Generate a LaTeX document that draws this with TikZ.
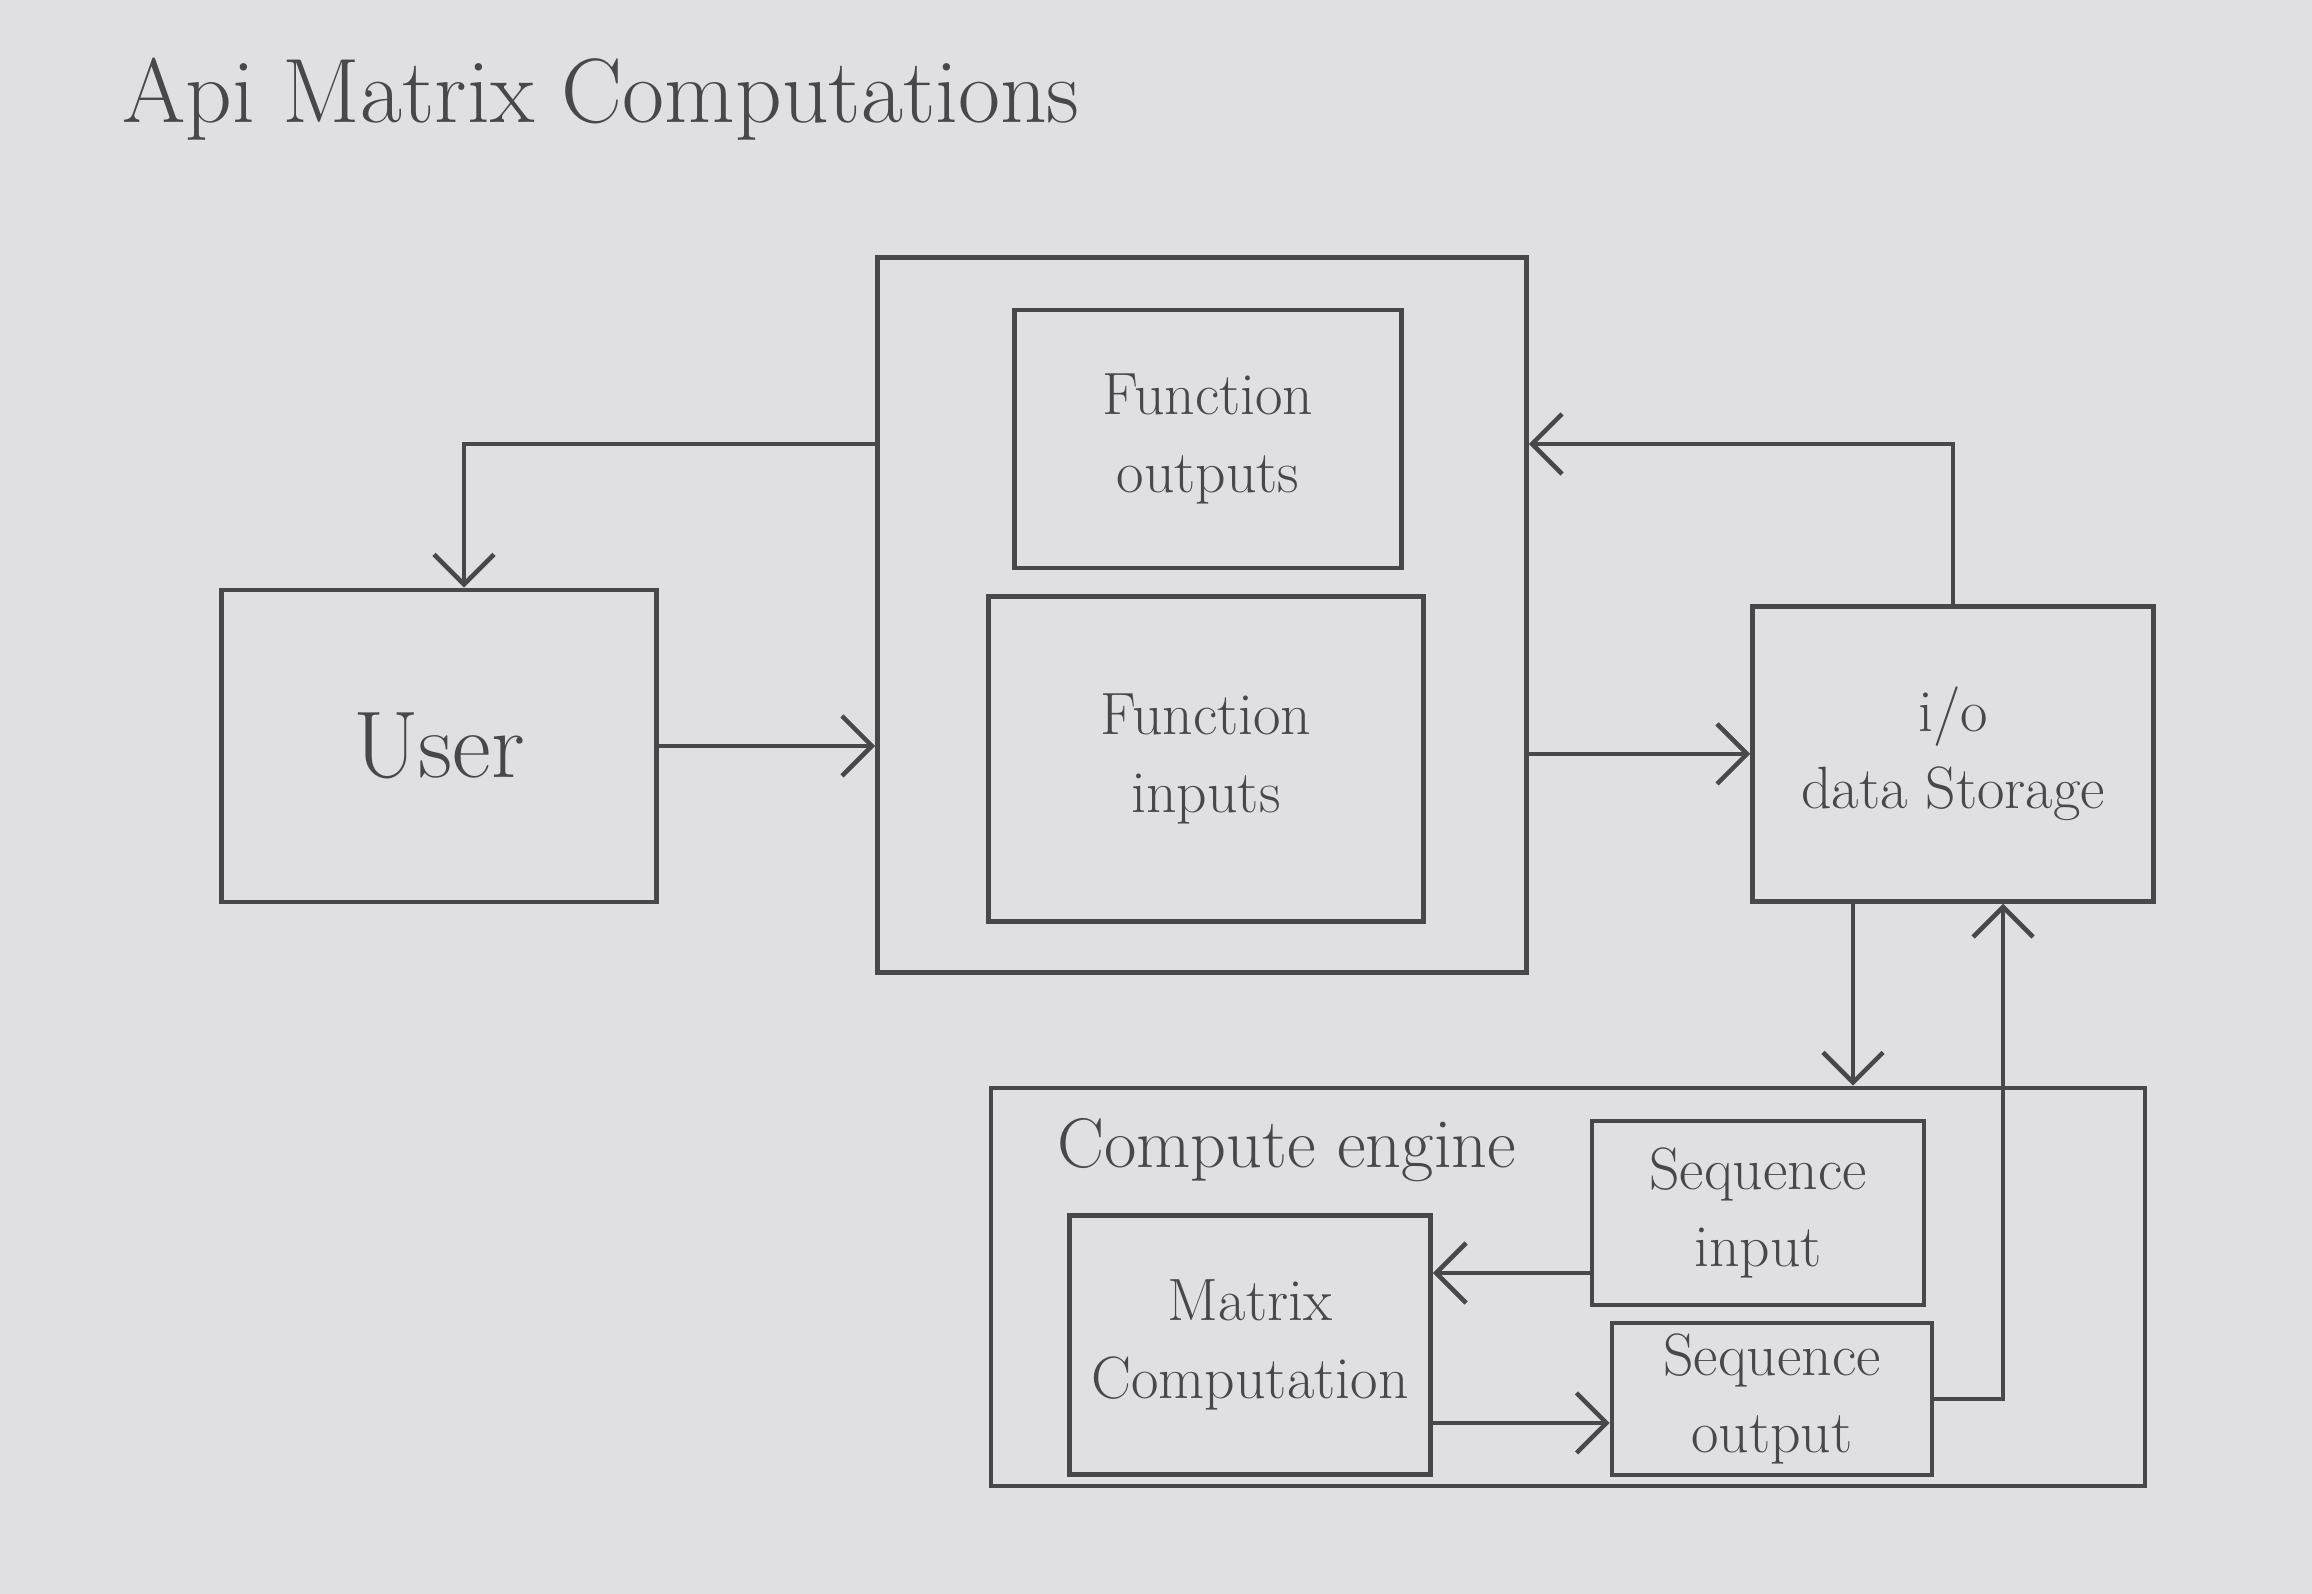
\documentclass[tikz,border=0pt]{standalone}
\usetikzlibrary{arrows.meta}
\definecolor{pencil}{RGB}{72,72,74}
\definecolor{paper}{RGB}{224,224,226}
\begin{document}
\begin{tikzpicture}[
  box/.style={draw=pencil, line width=1.3pt, inner sep=2pt, align=center, text=pencil, font=\fontsize{17}{22}\selectfont},
  arr/.style={draw=pencil, line width=1.3pt, -{Straight Barb[length=3mm,width=6mm]}},
  lbl/.style={text=pencil, anchor=west}]
\fill[paper] (0,0) rectangle (23.12,15.94);
\useasboundingbox (0,0) rectangle (23.12,15.94);
\def\bx#1#2#3#4#5{
\node[box, minimum width=#3cm, minimum height=#4cm] (#1) at (#2) {#5};
}
\node[lbl, font=\fontsize{26}{30}\selectfont] (title) at (1.1,14.95) {Api Matrix Computations};
\bx{api}{12.02,9.79}{6.49}{7.15}{}
\bx{fout}{12.08,11.55}{3.87}{2.58}{Function\\outputs}
\bx{fin}{12.06,8.35}{4.35}{3.25}{Function\\inputs}
\bx{user}{4.39,8.48}{4.35}{3.12}{\fontsize{27}{30}\selectfont User}
\bx{io}{19.53,8.40}{4.01}{2.95}{i/o\\data Storage}
\bx{engine}{15.68,3.07}{11.54}{3.98}{}
\node[lbl, font=\fontsize{20}{24}\selectfont] (enginelbl) at (10.45,4.44) {Compute engine};
\bx{matrix}{12.50,2.49}{3.61}{2.59}{Matrix\\Computation}
\bx{seqin}{17.58,3.81}{3.32}{1.84}{Sequence\\input}
\bx{seqout}{17.72,1.95}{3.20}{1.52}{Sequence\\output}
\coordinate (topline) at (0,11.5);
\draw[arr] (user.east) -- (user.east -| api.west);
\draw[arr] (io.west -| api.east) -- (io.west);
\draw[arr] (io.north) |- (api.east |- topline);
\draw[arr] (api.west |- topline) -| ([xshift=2.5mm]user.north);
\draw[arr] ([xshift=-1cm]io.south) -- ([xshift=-1cm]io.south |- engine.north);
\draw[arr] (seqout.east) -| ([xshift=5mm]io.south);
\draw[arr] ([yshift=-6mm]seqin.west) -- ([yshift=-6mm]seqin.west -| matrix.east);
\draw[arr] ([yshift=-2.4mm]seqout.west -| matrix.east) -- ([yshift=-2.4mm]seqout.west);
\end{tikzpicture}
\end{document}
